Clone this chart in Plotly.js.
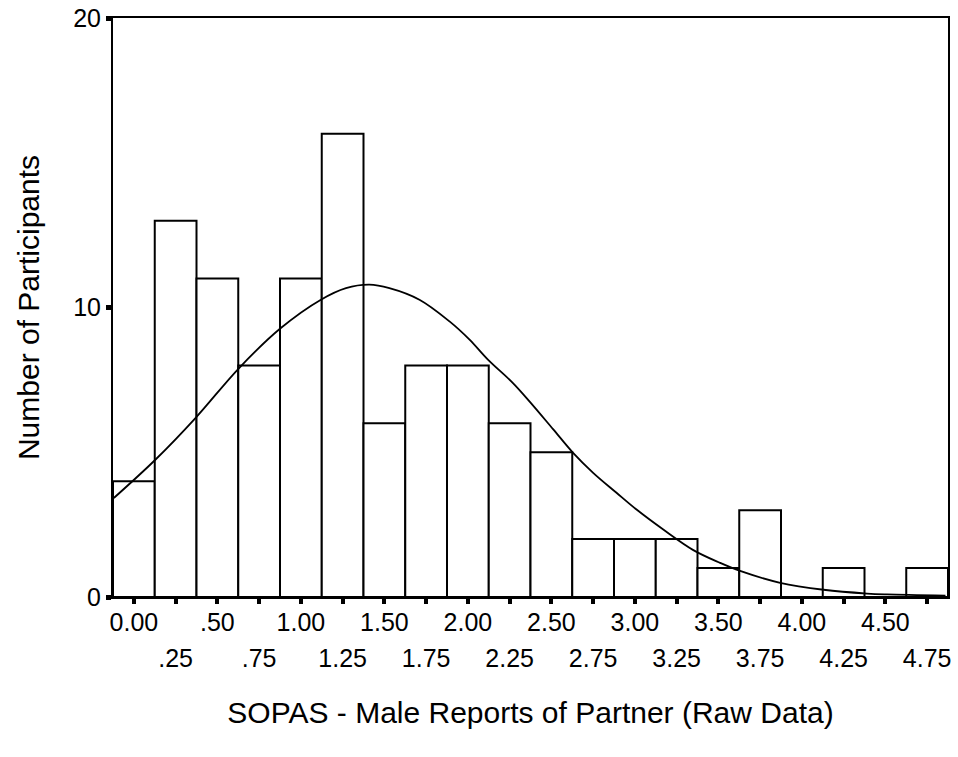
<!DOCTYPE html>
<html>
<head>
<meta charset="utf-8">
<script src="https://cdn.plot.ly/plotly-3.0.1.min.js"></script>
<style>html,body{margin:0;padding:0;background:#fff;}#chart{width:958px;height:757px;}</style>
</head>
<body>
<div id="chart"></div>
<script>
// Histogram bins (centers) and counts
const binCenters = [0.00,0.25,0.50,0.75,1.00,1.25,1.50,1.75,2.00,2.25,2.50,2.75,3.00,3.25,3.50,3.75,4.00,4.25,4.50,4.75];
const counts     = [4,13,11,8,11,16,6,8,8,6,5,2,2,2,1,3,0,1,0,1];

// Fitted normal curve
const curveX = [-0.12,0.13,0.37,0.63,0.88,1.12,1.27,1.41,1.53,1.71,1.89,2.01,2.12,2.27,2.37,2.51,2.63,2.75,2.89,3.01,3.17,3.35,3.51,3.63,3.87,4.13,4.39,4.51,4.86];
const curveY = [3.42,4.75,6.19,7.91,9.29,10.27,10.67,10.79,10.67,10.27,9.52,8.89,8.20,7.39,6.75,5.80,4.98,4.29,3.60,3.02,2.33,1.62,1.18,0.90,0.49,0.25,0.12,0.09,0.05];

// Tick labels (two rows)
const upperTickVals = [0.00,0.50,1.00,1.50,2.00,2.50,3.00,3.50,4.00,4.50];
const upperLabels = ["0.00",".50","1.00","1.50","2.00","2.50","3.00","3.50","4.00","4.50"];
const lowerTickVals = [0.25,0.75,1.25,1.75,2.25,2.75,3.25,3.75,4.25,4.75];
const lowerLabels = [".25",".75","1.25","1.75","2.25","2.75","3.25","3.75","4.25","4.75"];

const yTicks = [0,10,20];
const yLabels = ["0","10","20"];

const fam = "Liberation Sans, Arial, sans-serif";
const tickFont = {family:fam, size:25, color:"#000"};
const titleFont = {family:fam, size:30, color:"#000"};

const traces = [
  {type:"bar", x:binCenters, y:counts, marker:{color:"#fff", line:{color:"#000", width:2}}, hoverinfo:"skip", xaxis:"x", yaxis:"y"},
  {type:"scatter", mode:"lines", x:curveX, y:curveY, line:{color:"#000", width:1.8, shape:"spline", smoothing:1}, hoverinfo:"skip", xaxis:"x", yaxis:"y"},
  {type:"scatter", mode:"markers", x:[upperTickVals[0]], y:[-5], marker:{opacity:0}, hoverinfo:"skip", xaxis:"x2", yaxis:"y"},
  {type:"scatter", mode:"markers", x:[lowerTickVals[0]], y:[-5], marker:{opacity:0}, hoverinfo:"skip", xaxis:"x3", yaxis:"y"}
];

const layout = {
  width:958, height:757,
  margin:{l:113, r:10, t:18, b:159.5},
  paper_bgcolor:"#fff", plot_bgcolor:"#fff",
  showlegend:false,
  bargap:0,
  font:{family:fam, color:"#000"},
  xaxis:{
    range:[-0.125,4.875], tickvals:binCenters, showticklabels:false,
    ticks:"outside", ticklen:5, tickwidth:4, tickcolor:"#000",
    showline:true, linewidth:2, linecolor:"#000", mirror:true,
    showgrid:false, zeroline:false,
    title:{text:"SOPAS - Male Reports of Partner (Raw Data)", font:titleFont, standoff:99}
  },
  xaxis2:{
    overlaying:"x", matches:"x", anchor:"y", side:"bottom",
    range:[-0.125,4.875], tickvals:upperTickVals, ticktext:upperLabels,
    ticks:"", showline:false, showgrid:false, zeroline:false,
    tickfont:tickFont, ticklabelstandoff:8
  },
  xaxis3:{
    overlaying:"x", matches:"x", anchor:"y", side:"bottom",
    range:[-0.125,4.875], tickvals:lowerTickVals, ticktext:lowerLabels,
    ticks:"", showline:false, showgrid:false, zeroline:false,
    tickfont:tickFont, ticklabelstandoff:44
  },
  yaxis:{
    range:[0,20], tickvals:yTicks, ticktext:yLabels,
    ticks:"outside", ticklen:5, tickwidth:5, tickcolor:"#000",
    showline:true, linewidth:2, linecolor:"#000", mirror:true,
    showgrid:false, zeroline:false,
    tickfont:tickFont,
    title:{text:"Number of Participants", font:titleFont, standoff:25}
  }
};

Plotly.newPlot("chart", traces, layout, {staticPlot:true, displayModeBar:false});
</script>
</body>
</html>
